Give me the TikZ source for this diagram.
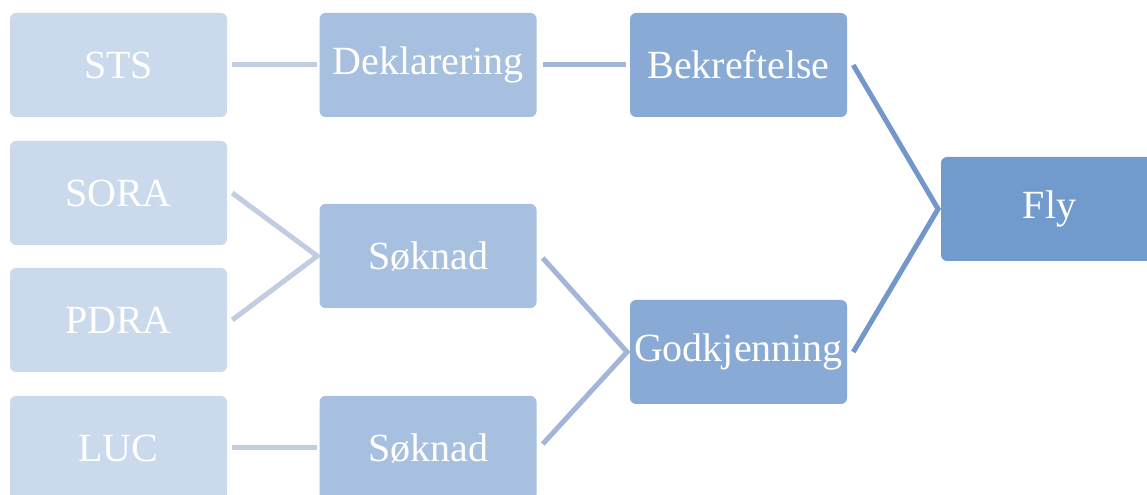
\documentclass[tikz,border=0pt]{standalone}
\usepackage{fontspec}
\setmainfont{Liberation Serif}
\definecolor{lvA}{HTML}{CAD9EC}
\definecolor{lvB}{HTML}{A8C0DF}
\definecolor{lvC}{HTML}{88AAD4}
\definecolor{lvD}{HTML}{729BCD}
\definecolor{lnA}{HTML}{C2CDE2}
\definecolor{lnB}{HTML}{A2B6D9}
\definecolor{lnC}{HTML}{7397CB}
\begin{document}
\begin{tikzpicture}[x=0.75pt,y=-0.75pt,
  box/.style={rounded corners=4.5pt,minimum width=162.75pt,minimum height=78pt,
    inner sep=0pt,text=white,font=\fontsize{30pt}{36pt}\selectfont},
  boxA/.style={box,fill=lvA},
  boxB/.style={box,fill=lvB},
  boxC/.style={box,fill=lvC},
  boxD/.style={box,fill=lvD},
  link/.style={line width=3.75pt,line join=miter}]
\useasboundingbox (0,0) rectangle (1147,495);
\clip (0,0) rectangle (1147,495);
\fill[white] (0,0) rectangle (1147,495);
% first column
\node[boxA] (sts)  at (118.5,65)  {STS};
\node[boxA] (sora) at (118.5,193) {SORA};
\node[boxA] (pdra) at (118.5,320) {PDRA};
\node[boxA] (luc)  at (118.5,448) {LUC};
% second column
\node[boxB] (dek)  at (428,65)  {Deklarering};
\node[boxB] (sokA) at (428,256) {Søknad};
\node[boxB] (sokB) at (428,448) {Søknad};
% third column
\node[boxC] (bek) at (738.5,65)  {Bekreftelse};
\node[boxC] (god) at (738.5,352) {Godkjenning};
% last step
\node[boxD] (fly) at (1049.5,209) {Fly};
% connectors
\draw[link,lnA] ([xshift=3.75pt]sts.east) -- ([xshift=-1.5pt]dek.west);
\draw[link,lnA] ([xshift=3.75pt,yshift=0pt]sora.east) -- ([xshift=-1.5pt]sokA.west) -- ([xshift=3.75pt]pdra.east);
\draw[link,lnA] ([xshift=3.75pt]luc.east) -- ([xshift=-1.5pt]sokB.west);
\draw[link,lnB] ([xshift=4.5pt]dek.east) -- ([xshift=-3pt]bek.west);
\draw[link,lnB] ([xshift=4.5pt,yshift=-1.5pt]sokA.east) -- ([xshift=-2pt]god.west) -- ([xshift=4.5pt,yshift=3pt]sokB.east);
\draw[link,lnC] ([xshift=4.5pt]bek.east) -- ([xshift=-2pt]fly.west) -- ([xshift=4.5pt]god.east);
\end{tikzpicture}
\end{document}
